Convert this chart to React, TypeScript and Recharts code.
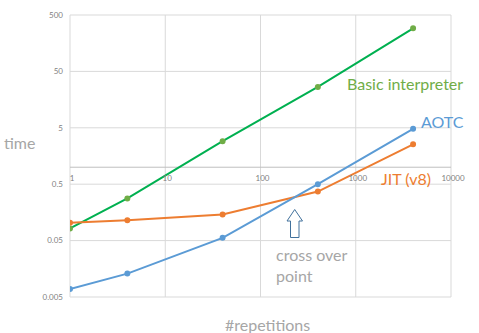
import { LineChart, Line, XAxis, YAxis, CartesianGrid, ReferenceLine } from 'recharts';

const reps = [1, 4, 40, 400, 4000];
const basic = [0.082, 0.28, 2.9, 26.5, 290];
const aotc = [0.0069, 0.013, 0.056, 0.5, 4.8];
const jit = [0.104, 0.115, 0.145, 0.37, 2.55];

const xTicks = [1, 10, 100, 1000, 10000];
const yTicks = [0.005, 0.05, 0.5, 5, 50, 500];

const data = reps.map((r, i) => ({ reps: r, basic: basic[i], aotc: aotc[i], jit: jit[i] }));

const W = 479;
const H = 333;
const X_H = 30;
const M = { top: 15, right: 28, bottom: 36 - X_H, left: 10 };
const PLOT_H = H - 15 - 36;
// x axis crosses the value axis at 1
const CROSS = (PLOT_H * Math.log10(1 / 0.005)) / Math.log10(500 / 0.005);

const XTick = (props: any) => {
  const { x, y, payload } = props;
  return (
    <text x={x + 2} y={y - CROSS + 14} textAnchor="middle" fontSize={8} fill="#7f7f7f" fontFamily="Lato, sans-serif">
      {payload.value}
    </text>
  );
};

const fmtY = (v: number) => String(v);

const txt = (color: string, size: number) => ({
  position: 'absolute' as const,
  color,
  fontSize: size,
  fontFamily: 'Lato, sans-serif',
  whiteSpace: 'nowrap' as const,
  lineHeight: 1,
});

export default function App() {
  return (
    <div style={{ position: 'absolute', left: 0, top: 0, width: W, height: H, background: '#fff' }}>
      <LineChart width={W} height={H} data={data} margin={M}>
        <CartesianGrid stroke="#d9d9d9" strokeWidth={1} />
        <XAxis
          dataKey="reps"
          type="number"
          scale="log"
          domain={[1, 10000]}
          ticks={xTicks}
          interval={0}
          axisLine={false}
          tickLine={false}
          tickSize={0}
          tickMargin={0}
          height={X_H}
          tick={XTick}
          allowDataOverflow
        />
        <YAxis
          type="number"
          scale="log"
          domain={[0.005, 500]}
          ticks={yTicks}
          interval={0}
          tickFormatter={fmtY}
          axisLine={false}
          tickLine={false}
          tickSize={0}
          tickMargin={7}
          width={60}
          tick={{ fontSize: 8, fill: '#7f7f7f', fontFamily: 'Lato, sans-serif' }}
          allowDataOverflow
        />
        <ReferenceLine y={1} stroke="#bfbfbf" strokeWidth={1} />
        <Line
          type="linear"
          dataKey="basic"
          stroke="#00b050"
          strokeWidth={2}
          dot={{ r: 2, fill: '#70ad47', stroke: '#70ad47' }}
          isAnimationActive={false}
        />
        <Line
          type="linear"
          dataKey="jit"
          stroke="#ed7d31"
          strokeWidth={2}
          dot={{ r: 2, fill: '#ed7d31', stroke: '#ed7d31' }}
          isAnimationActive={false}
        />
        <Line
          type="linear"
          dataKey="aotc"
          stroke="#5b9bd5"
          strokeWidth={2}
          dot={{ r: 2, fill: '#5b9bd5', stroke: '#5b9bd5' }}
          isAnimationActive={false}
        />
      </LineChart>

      <svg style={{ position: 'absolute', left: 0, top: 0 }} width={W} height={H}>
        <path
          d="M294.7 209.5 L302.5 221 L299 221 L299 237.5 L290.5 237.5 L290.5 221 L287 221 Z"
          fill="#fff"
          stroke="#41719c"
          strokeWidth={1}
        />
      </svg>

      <div style={{ ...txt('#a6a6a6', 16), left: 4, top: 135 }}>time</div>
      <div style={{ ...txt('#a6a6a6', 16), left: 225, top: 317 }}>#repetitions</div>
      <div style={{ ...txt('#70ad47', 16), left: 347, top: 76 }}>Basic interpreter</div>
      <div style={{ ...txt('#5b9bd5', 16), left: 421, top: 114 }}>AOTC</div>
      <div style={{ ...txt('#ed7d31', 16), left: 381, top: 171 }}>JIT (v8)</div>
      <div style={{ ...txt('#a6a6a6', 16), left: 276, top: 244, lineHeight: '21px' }}>
        cross over
        <br />
        point
      </div>
    </div>
  );
}
